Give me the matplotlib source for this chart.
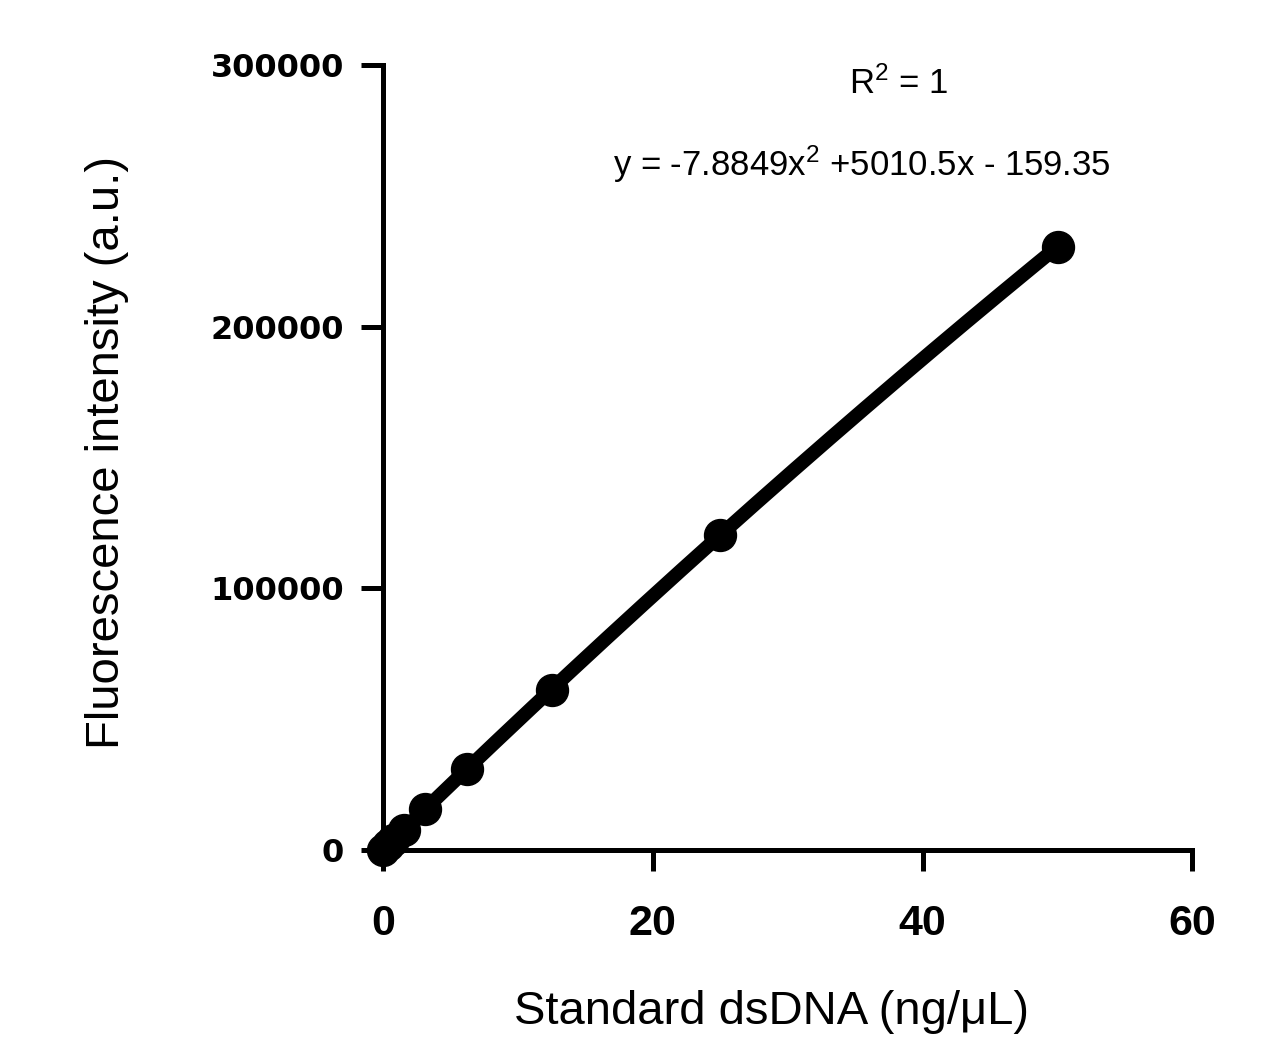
import matplotlib
matplotlib.use("Agg")
import matplotlib.pyplot as plt
import numpy as np

# standard curve values
conc = [0, 0.390625, 0.78125, 1.5625, 3.125, 6.25, 12.5, 25, 50]
fluor = [0, 1800, 3800, 7600, 15400, 31000, 61000, 120500, 230500]

x_ticks = [0, 20, 40, 60]
y_ticks = [0, 100000, 200000, 300000]

r2_text = r"R$^{2}$ = 1"
eq_text = r"y = -7.8849x$^{2}$ +5010.5x - 159.35"

plt.rcParams['font.family'] = ['Liberation Sans', 'DejaVu Sans']
plt.rcParams['mathtext.default'] = 'regular'

fig = plt.figure(figsize=(12.85, 10.4), dpi=100)
ax = fig.add_axes([0.298, 0.183, 0.63, 0.7545])

# quadratic fit drawn as line, points on top
coef = np.polyfit(conc, fluor, 2)
xs = np.linspace(0, 50, 200)
ax.plot(xs, np.polyval(coef, xs), color='black', lw=10, solid_capstyle='round', clip_on=False, zorder=2)
ax.plot(conc, fluor, 'o', color='black', ms=23, clip_on=False, zorder=3)

ax.set_xlim(0, 60)
ax.set_ylim(0, 300000)
ax.set_xticks(x_ticks)
ax.set_yticks(y_ticks)
ax.set_xticklabels([str(v) for v in x_ticks], fontsize=31, fontweight='bold')
ax.set_yticklabels([str(v) for v in y_ticks], fontsize=23, fontweight='heavy',
                   family=['DejaVu Sans'])

for s in ['top', 'right']:
    ax.spines[s].set_visible(False)
for s in ['left', 'bottom']:
    ax.spines[s].set_linewidth(3.6)
    ax.spines[s].set_capstyle('projecting')

ax.tick_params(axis='x', direction='out', length=15, width=3.6, pad=24)
ax.tick_params(axis='y', direction='out', length=16, width=3.6, pad=12)

fig.text(0.600, 0.027, "Standard dsDNA (ng/μL)", fontsize=34, ha='center', va='center')
fig.text(0.083, 0.565, "Fluorescence intensity (a.u.)", fontsize=34, ha='center', va='center',
         rotation=90)

ax.text(0.637, 0.976, r2_text, transform=ax.transAxes, ha='center', va='center', fontsize=25)
ax.text(0.591, 0.873, eq_text, transform=ax.transAxes, ha='center', va='center', fontsize=25)

fig.savefig("out.png", dpi=100)
